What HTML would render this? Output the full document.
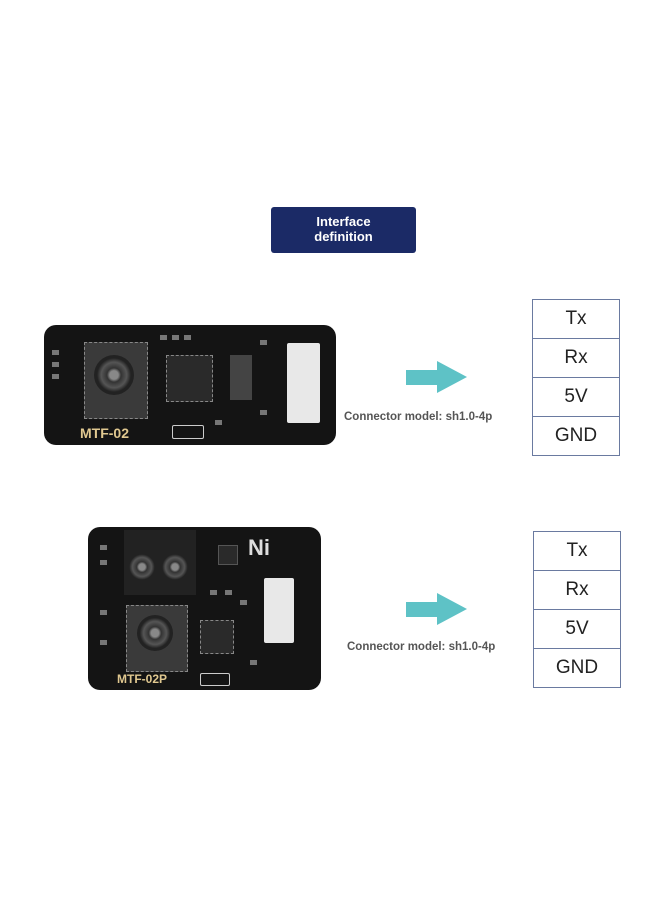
<!DOCTYPE html>
<html><head><meta charset="utf-8"><style>
body{margin:0;width:660px;height:900px;background:#fff;position:relative;overflow:hidden;font-family:"Liberation Sans",sans-serif}
.a{position:absolute}
.ban{left:271px;top:207px;width:145px;height:46px;background:#1b2a66;border-radius:3px;color:#fff;font-weight:bold;font-size:13px;line-height:15px;text-align:center;padding-top:7px;box-sizing:border-box}
.tbl{border:1px solid #6a7aa0;width:86px}
.tbl div{height:38px;border-bottom:1px solid #6a7aa0;text-align:center;line-height:38px;font-size:19px;color:#222}
.tbl div:last-child{border-bottom:none}
.lbl{font-size:11.5px;font-weight:bold;color:#555;white-space:nowrap}
.board{background:#141414;border-radius:12px}
.chip{background:#2a2a2a;border:1px dashed #888}
.lens{border-radius:50%;background:radial-gradient(circle,#888 0 15%,#333 25%,#555 45%,#222 60%);}
.conn{background:#e8e8e8;border-radius:2px}
.txt{color:#e0c890;font-weight:bold;font-size:14px}
.sm{position:absolute;background:#777;width:7px;height:5px}
</style></head><body>
<div class="a ban">Interface<br>definition</div>

<!-- board 1 -->
<div class="a board" style="left:44px;top:325px;width:292px;height:120px"></div>
<div class="a chip" style="left:84px;top:342px;width:62px;height:75px;background:#3a3a3a"></div>
<div class="a lens" style="left:94px;top:355px;width:40px;height:40px"></div>
<div class="a chip" style="left:166px;top:355px;width:45px;height:45px"></div>
<div class="a" style="left:230px;top:355px;width:22px;height:45px;background:#444"></div>
<div class="sm" style="left:52px;top:350px"></div><div class="sm" style="left:52px;top:362px"></div><div class="sm" style="left:52px;top:374px"></div>
<div class="sm" style="left:160px;top:335px"></div><div class="sm" style="left:172px;top:335px"></div><div class="sm" style="left:184px;top:335px"></div>
<div class="sm" style="left:260px;top:340px"></div><div class="sm" style="left:260px;top:410px"></div><div class="sm" style="left:215px;top:420px"></div>
<div class="a conn" style="left:287px;top:343px;width:33px;height:80px"></div>
<div class="a txt" style="left:80px;top:425px">MTF-02</div>
<div class="a" style="left:172px;top:425px;width:30px;height:12px;border:1px solid #ccc;border-radius:2px"></div>

<div class="a" style="left:406px;top:370px;width:32px;height:15px;background:#5ec2c6"></div>
<div class="a" style="left:437px;top:361px;width:0;height:0;border-top:16px solid transparent;border-bottom:16px solid transparent;border-left:30px solid #5ec2c6"></div>
<div class="a lbl" style="left:344px;top:411px">Connector model: sh1.0-4p</div>
<div class="a tbl" style="left:532px;top:299px"><div>Tx</div><div>Rx</div><div>5V</div><div>GND</div></div>

<!-- board 2 -->
<div class="a board" style="left:88px;top:527px;width:233px;height:163px"></div>
<div class="a" style="left:124px;top:530px;width:72px;height:65px;background:#222"></div>
<div class="a lens" style="left:127px;top:552px;width:30px;height:30px"></div>
<div class="a lens" style="left:160px;top:552px;width:30px;height:30px"></div>
<div class="a chip" style="left:126px;top:605px;width:60px;height:65px;background:#3a3a3a"></div>
<div class="a lens" style="left:137px;top:615px;width:36px;height:36px"></div>
<div class="a chip" style="left:200px;top:620px;width:32px;height:32px"></div>
<div class="sm" style="left:100px;top:545px"></div><div class="sm" style="left:100px;top:560px"></div><div class="sm" style="left:100px;top:610px"></div><div class="sm" style="left:100px;top:640px"></div>
<div class="sm" style="left:210px;top:590px"></div><div class="sm" style="left:225px;top:590px"></div><div class="sm" style="left:240px;top:600px"></div><div class="sm" style="left:250px;top:660px"></div>
<div class="a" style="left:218px;top:545px;width:18px;height:18px;background:#2a2a2a;border:1px solid #555"></div>
<div class="a conn" style="left:264px;top:578px;width:30px;height:65px"></div>
<div class="a" style="left:248px;top:535px;color:#ddd;font-weight:bold;font-size:22px">Ni</div>
<div class="a txt" style="left:117px;top:672px;font-size:12px">MTF-02P</div>
<div class="a" style="left:200px;top:673px;width:28px;height:11px;border:1px solid #ccc;border-radius:2px"></div>

<div class="a" style="left:406px;top:602px;width:32px;height:15px;background:#5ec2c6"></div>
<div class="a" style="left:437px;top:593px;width:0;height:0;border-top:16px solid transparent;border-bottom:16px solid transparent;border-left:30px solid #5ec2c6"></div>
<div class="a lbl" style="left:347px;top:641px">Connector model: sh1.0-4p</div>
<div class="a tbl" style="left:533px;top:531px"><div>Tx</div><div>Rx</div><div>5V</div><div>GND</div></div>
</body></html>
